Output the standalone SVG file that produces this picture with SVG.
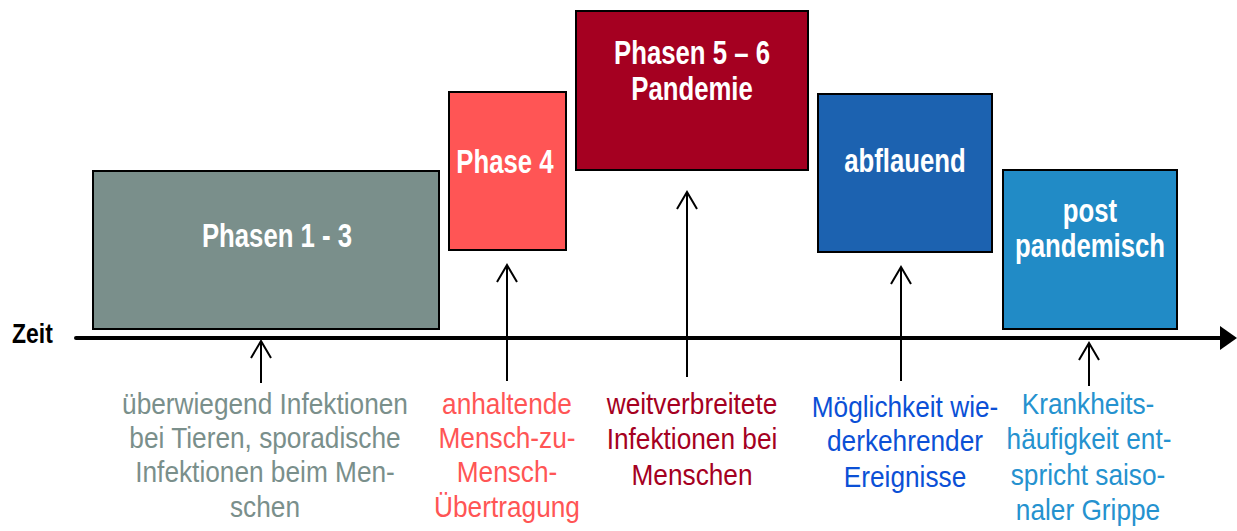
<svg xmlns="http://www.w3.org/2000/svg" width="1237" height="531" viewBox="0 0 1237 531">
<defs>
<style>
.box{stroke:#000;stroke-width:2}
.bt{font-family:"Liberation Sans",Arial,sans-serif;font-weight:bold;font-size:33px;fill:#fff;text-anchor:middle}
.lb{font-family:"Liberation Sans",Arial,sans-serif;font-size:30px;text-anchor:middle}
.ar{fill:none;stroke:#000;stroke-width:2}
</style>
<marker id="open" viewBox="0 0 20 22" refX="18" refY="11" markerWidth="20" markerHeight="22" markerUnits="userSpaceOnUse" orient="auto">
<path d="M1,1 L18,11 L1,21" fill="none" stroke="#000" stroke-width="2"/>
</marker>
<marker id="solid" viewBox="0 0 17 24" refX="3" refY="12" markerWidth="17" markerHeight="24" markerUnits="userSpaceOnUse" orient="auto">
<path d="M0,0 L17,12 L0,24 Z" fill="#000"/>
</marker>
</defs>
<rect width="1237" height="531" fill="#fff"/>

<g id="timeline">
<line x1="76" y1="338" x2="1223" y2="338" stroke="#000" stroke-width="4" stroke-linecap="round" marker-end="url(#solid)"/>
<text transform="translate(12,343) scale(0.85,1)" font-family="Liberation Sans, Arial, sans-serif" font-weight="bold" font-size="27" fill="#000">Zeit</text>
</g>

<g id="phase1-3">
<rect class="box" x="93" y="171" width="346" height="158" fill="#7A8F8B"/>
<text class="bt" transform="translate(277,247) scale(0.78,1)">Phasen 1 - 3</text>
</g>
<g id="phase4">
<rect class="box" x="449" y="92" width="117" height="158" fill="#FF5555"/>
<text class="bt" transform="translate(505,173) scale(0.78,1)">Phase 4</text>
</g>
<g id="phase5-6">
<rect class="box" x="576" y="11" width="232" height="159" fill="#A50021"/>
<text class="bt" transform="translate(692,64) scale(0.78,1)">Phasen 5 – 6</text>
<text class="bt" transform="translate(692,100) scale(0.78,1)">Pandemie</text>
</g>
<g id="abflauend">
<rect class="box" x="818" y="94" width="174" height="158" fill="#1C62B0"/>
<text class="bt" transform="translate(905,172) scale(0.78,1)">abflauend</text>
</g>
<g id="postpandemisch">
<rect class="box" x="1003" y="170" width="174" height="159" fill="#218BC6"/>
<text class="bt" transform="translate(1090,222) scale(0.78,1)">post</text>
<text class="bt" transform="translate(1090,257) scale(0.78,1)">pandemisch</text>
</g>

<g id="connectors">
<line class="ar" x1="261" y1="383" x2="261" y2="341" marker-end="url(#open)"/>
<line class="ar" x1="507" y1="381" x2="507" y2="265" marker-end="url(#open)"/>
<line class="ar" x1="687" y1="377" x2="687" y2="192" marker-end="url(#open)"/>
<line class="ar" x1="901" y1="381" x2="901" y2="267" marker-end="url(#open)"/>
<line class="ar" x1="1089" y1="386" x2="1089" y2="343" marker-end="url(#open)"/>
</g>

<g id="label1" class="lb" fill="#7A8F8B">
<text transform="translate(265,414) scale(0.875,1)">überwiegend Infektionen</text>
<text transform="translate(265,448) scale(0.875,1)">bei Tieren, sporadische</text>
<text transform="translate(265,482) scale(0.875,1)">Infektionen beim Men-</text>
<text transform="translate(265,517) scale(0.875,1)">schen</text>
</g>
<g id="label2" class="lb" fill="#FF5555">
<text transform="translate(507,414) scale(0.875,1)">anhaltende</text>
<text transform="translate(507,448) scale(0.875,1)">Mensch-zu-</text>
<text transform="translate(507,482) scale(0.875,1)">Mensch-</text>
<text transform="translate(507,517) scale(0.875,1)">Übertragung</text>
</g>
<g id="label3" class="lb" fill="#A50021">
<text transform="translate(692,414) scale(0.875,1)">weitverbreitete</text>
<text transform="translate(692,449) scale(0.875,1)">Infektionen bei</text>
<text transform="translate(692,485) scale(0.875,1)">Menschen</text>
</g>
<g id="label4" class="lb" fill="#0B50D6">
<text transform="translate(905,417) scale(0.875,1)">Möglichkeit wie-</text>
<text transform="translate(905,451) scale(0.875,1)">derkehrender</text>
<text transform="translate(905,487) scale(0.875,1)">Ereignisse</text>
</g>
<g id="label5" class="lb" fill="#2592CF">
<text transform="translate(1088,414) scale(0.875,1)">Krankheits-</text>
<text transform="translate(1089,449) scale(0.875,1)">häufigkeit ent-</text>
<text transform="translate(1088,485) scale(0.875,1)">spricht saiso-</text>
<text transform="translate(1088,520) scale(0.875,1)">naler Grippe</text>
</g>
</svg>
